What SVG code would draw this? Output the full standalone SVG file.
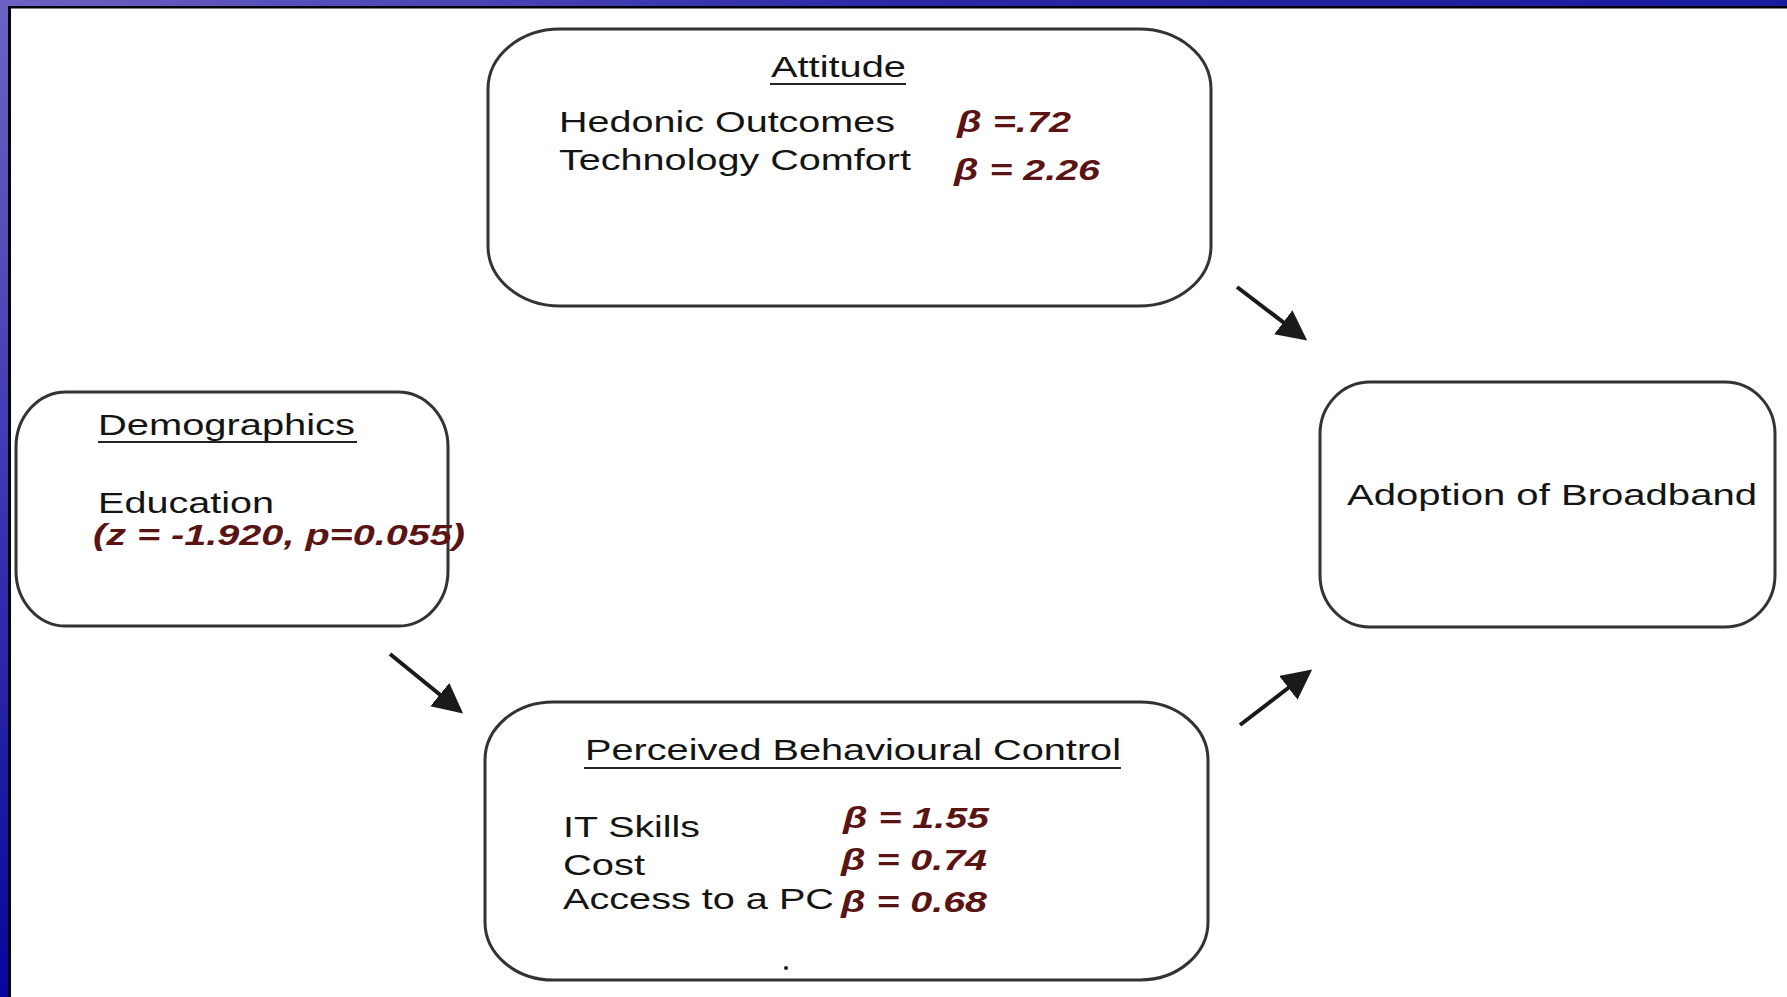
<svg xmlns="http://www.w3.org/2000/svg" width="1787" height="997" viewBox="0 0 1787 997">
  <defs>
    <linearGradient id="gLeft" x1="0" y1="0" x2="0" y2="1">
      <stop offset="0" stop-color="#6c62c2"/>
      <stop offset="0.5" stop-color="#3a36b0"/>
      <stop offset="1" stop-color="#06069a"/>
    </linearGradient>
    <linearGradient id="gTop" x1="0" y1="0" x2="1" y2="0">
      <stop offset="0" stop-color="#6c62c2"/>
      <stop offset="0.5" stop-color="#2a28a8"/>
      <stop offset="1" stop-color="#1a1a9c"/>
    </linearGradient>
    <marker id="arrow" markerUnits="userSpaceOnUse" markerWidth="32" markerHeight="32" refX="26" refY="15" orient="auto">
      <path d="M0,0 L30,15 L0,30 Z" fill="#1a1a1a"/>
    </marker>
    <style>
      .box { fill: #ffffff; stroke: #333333; stroke-width: 3; }
      .t { font-family: "Liberation Sans", Arial, sans-serif; font-size: 29px; fill: #141414; }
      .b { font-family: "Liberation Sans", Arial, sans-serif; font-size: 29px; fill: #5a1414; font-style: italic; font-weight: bold; }
      .ul { stroke: #222222; stroke-width: 2; }
      .conn { stroke: #1a1a1a; stroke-width: 4; fill: none; marker-end: url(#arrow); }
    </style>
  </defs>

  <!-- frame -->
  <rect x="0" y="0" width="1787" height="997" fill="#ffffff"/>
  <rect x="0" y="0" width="9" height="997" fill="url(#gLeft)"/>
  <rect x="0" y="0" width="1787" height="6" fill="url(#gTop)"/>
  <rect x="8" y="6" width="3" height="991" fill="#000000"/>
  <rect x="8" y="6" width="1779" height="2.5" fill="#000000"/>

  <g id="attitude">
    <rect class="box" x="488" y="29" width="723" height="277" rx="72" ry="60"/>
    <text class="t" x="771" y="77" textLength="135" lengthAdjust="spacingAndGlyphs">Attitude</text>
    <line class="ul" x1="770" y1="84" x2="906" y2="84"/>
    <text class="t" x="559" y="132" textLength="336" lengthAdjust="spacingAndGlyphs">Hedonic Outcomes</text>
    <text class="t" x="559" y="170" textLength="352" lengthAdjust="spacingAndGlyphs">Technology Comfort</text>
    <text class="b" x="957" y="132" textLength="114" lengthAdjust="spacingAndGlyphs">β =.72</text>
    <text class="b" x="954" y="180" textLength="146" lengthAdjust="spacingAndGlyphs">β = 2.26</text>
  </g>

  <g id="demographics">
    <rect class="box" x="16" y="392" width="432" height="234" rx="50" ry="55"/>
    <text class="t" x="98" y="435" textLength="257" lengthAdjust="spacingAndGlyphs">Demographics</text>
    <line class="ul" x1="98" y1="442" x2="357" y2="442"/>
    <text class="t" x="98" y="513" textLength="176" lengthAdjust="spacingAndGlyphs">Education</text>
    <text class="b" x="93" y="545" textLength="372" lengthAdjust="spacingAndGlyphs">(z = -1.920, p=0.055)</text>
  </g>

  <g id="adoption">
    <rect class="box" x="1320" y="382" width="455" height="245" rx="50" ry="52"/>
    <text class="t" x="1347" y="505" textLength="410" lengthAdjust="spacingAndGlyphs">Adoption of Broadband</text>
  </g>

  <g id="pbc">
    <rect class="box" x="485" y="702" width="723" height="278" rx="68" ry="58"/>
    <text class="t" x="585" y="760" textLength="536" lengthAdjust="spacingAndGlyphs">Perceived Behavioural Control</text>
    <line class="ul" x1="584" y1="768" x2="1121" y2="768"/>
    <text class="t" x="563" y="837" textLength="137" lengthAdjust="spacingAndGlyphs">IT Skills</text>
    <text class="t" x="563" y="875" textLength="82" lengthAdjust="spacingAndGlyphs">Cost</text>
    <text class="t" x="563" y="909" textLength="271" lengthAdjust="spacingAndGlyphs">Access to a PC</text>
    <text class="b" x="843" y="828" textLength="146" lengthAdjust="spacingAndGlyphs">β = 1.55</text>
    <text class="b" x="841" y="870" textLength="146" lengthAdjust="spacingAndGlyphs">β = 0.74</text>
    <text class="b" x="841" y="912" textLength="146" lengthAdjust="spacingAndGlyphs">β = 0.68</text>
    <circle cx="786" cy="968" r="2" fill="#222222"/>
  </g>

  <g id="connectors">
    <path class="conn" d="M1237,287 L1304,338"/>
    <path class="conn" d="M390,654 L460,711"/>
    <path class="conn" d="M1240,725 L1309,672"/>
  </g>
</svg>
